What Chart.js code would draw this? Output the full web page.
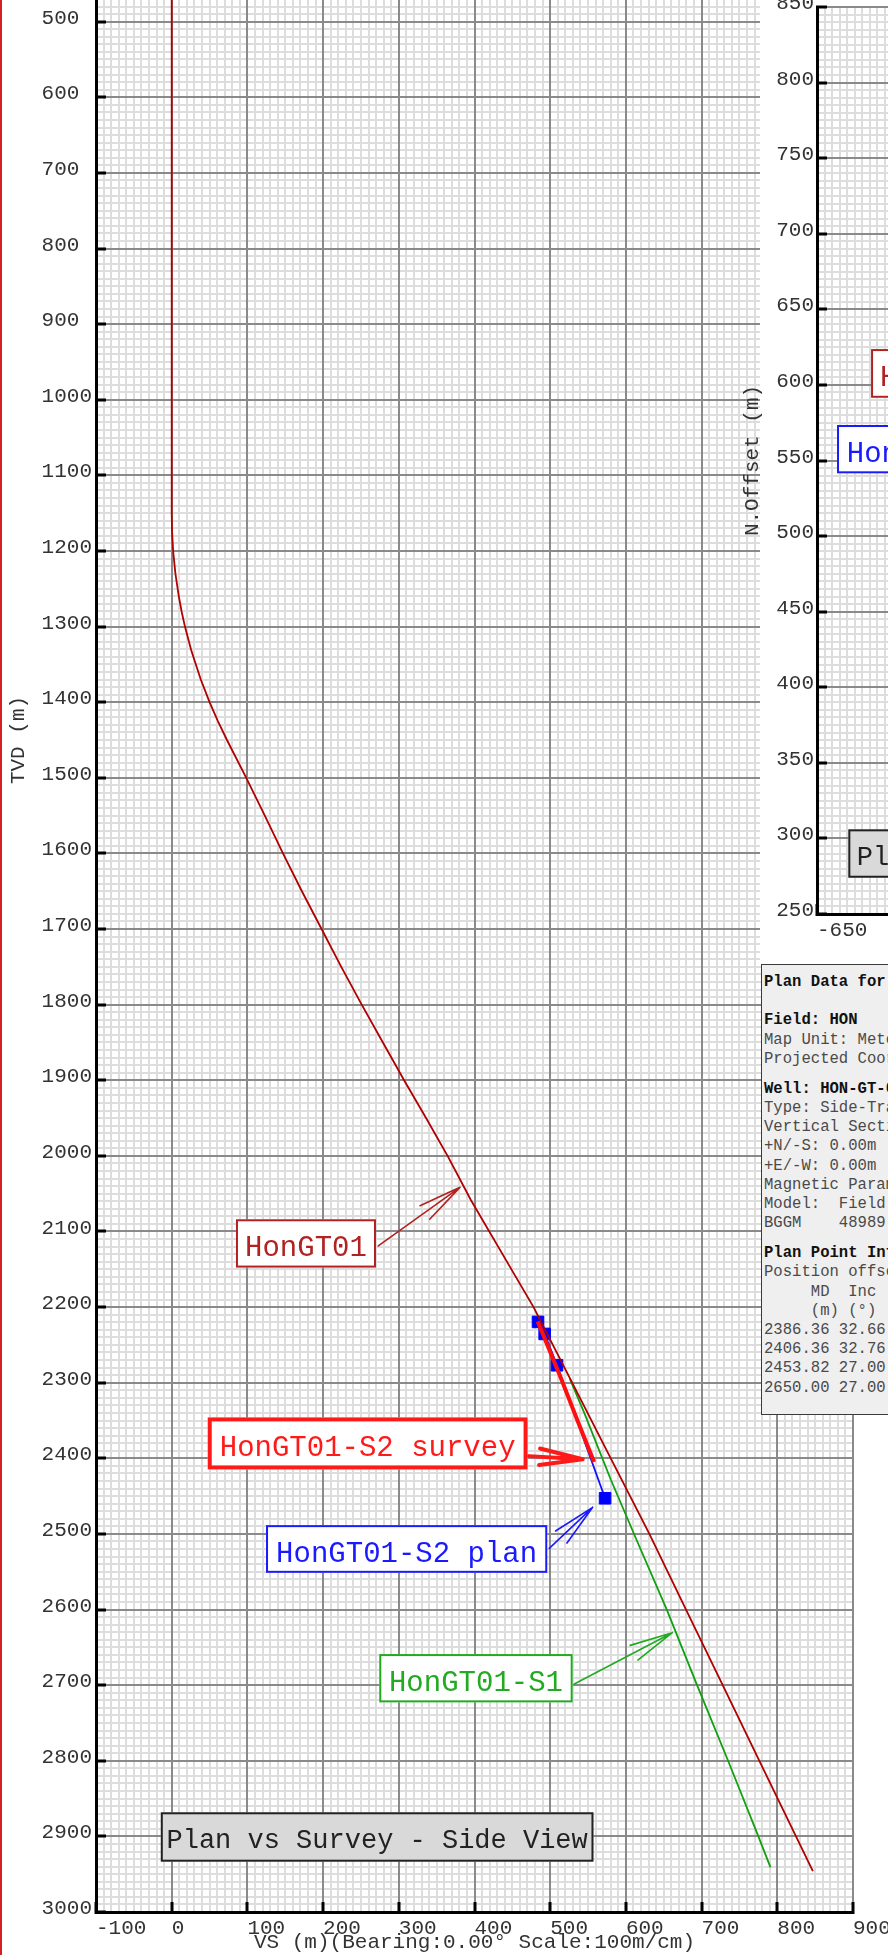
<!DOCTYPE html>
<html lang="en">
<head>
<meta charset="utf-8">
<title>Plan vs Survey - Side View</title>
<script src="https://cdn.jsdelivr.net/npm/chart.js@4.4.1/dist/chart.umd.min.js"></script>
<style>
  html, body { margin: 0; padding: 0; background: #fff; overflow: hidden; }
  #page { position: relative; width: 888px; height: 1955px; overflow: hidden; background: #fff; }
  #sideCanvas { position: absolute; left: 0; top: -460px; z-index: 1; }
  #planPanel { position: absolute; left: 760px; top: 0; width: 128px; height: 964px; background: #fff; z-index: 2; }
  #planCanvas { position: absolute; left: 740px; top: 0; z-index: 3; }
  #info { position: absolute; left: 761px; top: 964px; width: 420px; height: 451px; box-sizing: border-box;
          background: #efefef; border: 1.5px solid #3a3a3a; padding: 8px 0 0 2px; z-index: 4;
          font-family: "Liberation Mono", "Courier New", monospace; font-size: 15.6px; line-height: 19.2px;
          color: #4a4a4a; white-space: pre; }
  #info .b { font-weight: bold; color: #111; }
  #edge { position: absolute; left: 0; top: 0; width: 2px; height: 1955px; background: #d42020; z-index: 5; }
</style>
</head>
<body>
<div id="page">
  <canvas id="sideCanvas" width="888" height="2415" style="width:888px;height:2415px"></canvas>
  <div id="planPanel"></div>
  <canvas id="planCanvas" width="860" height="960" style="width:860px;height:960px"></canvas>
  <div id="info"></div>
  <div id="edge"></div>
</div>
<script>
// ---------------- data ----------------
// Side view: VS (m) vs TVD (m)
const hongt01VS  = [0, 0, 0.5, 1.9, 4.9, 9.4, 13.1, 17.5, 25.7, 38.4, 50, 61, 73, 98.5, 123, 147, 172, 198.5, 224, 251, 279, 307, 336, 365, 395, 437, 478, 529, 580, 631, 679.4, 727.9, 776.3, 824.7, 847];
const hongt01TVD = [0, 1150, 1175, 1200, 1230, 1260, 1280, 1300, 1331, 1370, 1400, 1425, 1450, 1500, 1550, 1600, 1650, 1701, 1750, 1800, 1850, 1900, 1950, 2001, 2058, 2130, 2200, 2300, 2400, 2500, 2600, 2700, 2800, 2900, 2946];

const s1VS  = [526, 545, 580, 615, 654, 694, 735, 775, 791];
const s1TVD = [2295, 2340, 2428, 2510, 2600, 2700, 2800, 2900, 2941];

const s2SurveyVS  = [483.5, 488, 495, 515, 536, 558];
const s2SurveyTVD = [2219, 2230, 2247, 2296, 2350, 2405];

const s2PlanVS  = [483.9, 492.7, 509, 572.5];
const s2PlanTVD = [2219.6, 2235.5, 2276.9, 2452.8];

// Plan point table
const planMD  = ['2386.36', '2406.36', '2453.82', '2650.00'];
const planInc = ['32.66', '32.76', '27.00', '27.00'];

// Axis ranges
const VS_RANGE  = [-100, 900];
const TVD_RANGE = [-100, 3000];
const EO_RANGE  = [-650, -150];
const NO_RANGE  = [250, 850];

// Callout texts
const sideTitle = 'Plan vs Survey - Side View';
const planTitle = 'Plan vs Survey - Plan View';
const nameHon = 'HonGT01';
const nameS1 = 'HonGT01-S1';
const nameSurvey = 'HonGT01-S2 survey';
const namePlan = 'HonGT01-S2 plan';

// ---------------- helpers ----------------
const MONO = '"Liberation Mono", "Courier New", monospace';
const MINOR = '#dddddd';
const MAJOR = '#8a8a8a';
const pts = (xs, ys) => xs.map((v, i) => ({ x: v, y: ys[i] }));

function fitBox(size) {
  return s => {
    if (s.isHorizontal()) s.height = size; else s.width = size;
    s.paddingLeft = 0; s.paddingRight = 0; s.paddingTop = 0; s.paddingBottom = 0;
  };
}

function minorAxis(axis, pos, range, step, reverse) {
  return {
    type: 'linear', axis: axis, position: pos, min: range[0], max: range[1], reverse: !!reverse,
    ticks: { display: false, stepSize: step },
    grid: { color: MINOR, lineWidth: 2, drawTicks: false, z: -2 },
    border: { display: false },
    afterFit: fitBox(0)
  };
}

function majorAxis(pos, range, step, size, extra) {
  const horiz = pos === 'bottom';
  const o = {
    type: 'linear', position: pos, min: range[0], max: range[1],
    ticks: {
      stepSize: step, autoSkip: false, maxRotation: 0, padding: 14,
      font: { family: MONO, size: 21 }, color: '#333',
      callback: v => horiz ? String(v) : String(v).padEnd(extra.pad || 0, ' ')
    },
    grid: { color: MAJOR, lineWidth: 2, tickLength: -10, tickWidth: 3, tickColor: '#000' },
    border: { color: '#000', width: 3 },
    afterFit: fitBox(size)
  };
  if (horiz) { o.ticks.align = 'start'; }
  else { o.ticks.crossAlign = 'near'; o.ticks.labelOffset = -3.5; o.ticks.padding = extra.padding || 14; }
  if (extra.reverse) o.reverse = true;
  if (extra.title) o.title = { display: true, text: extra.title, color: '#333', font: { family: MONO, size: 21 }, padding: extra.titlePad };
  return o;
}

// Callout boxes with open arrowheads, positioned in data coordinates
const calloutPlugin = {
  id: 'callouts',
  afterDatasetsDraw(chart, args, opts) {
    const ctx = chart.ctx, xs = chart.scales.x, ys = chart.scales.y;
    for (const c of (opts.items || [])) {
      ctx.save();
      ctx.font = c.size + 'px ' + MONO;
      const tw = ctx.measureText(c.text).width;
      const left = xs.getPixelForValue(c.boxX), mid = ys.getPixelForValue(c.boxY);
      const w = tw + 2 * c.padX, h = c.h, top = mid - h / 2;
      ctx.fillStyle = c.fill;
      ctx.fillRect(left, top, w, h);
      ctx.lineWidth = c.border;
      ctx.strokeStyle = c.stroke;
      ctx.strokeRect(left + c.border / 2, top + c.border / 2, w - c.border, h - c.border);
      ctx.fillStyle = c.color;
      ctx.textAlign = 'left';
      ctx.textBaseline = 'alphabetic';
      ctx.fillText(c.text, left + c.padX, mid + c.baseDY);
      if (c.tipX !== undefined) {
        const tx = xs.getPixelForValue(c.tipX), ty = ys.getPixelForValue(c.tipY);
        const sx = left + w + c.gap, sy = mid + c.startDY;
        const ang = Math.atan2(ty - sy, tx - sx);
        ctx.strokeStyle = c.stroke;
        ctx.lineWidth = c.arrowWidth;
        ctx.lineCap = 'round';
        ctx.beginPath();
        ctx.moveTo(sx, sy); ctx.lineTo(tx, ty);
        [-1, 1].forEach(s => {
          const a = ang + Math.PI + s * 0.19;
          ctx.moveTo(tx, ty);
          ctx.lineTo(tx + 44 * Math.cos(a), ty + 44 * Math.sin(a));
        });
        ctx.stroke();
      }
      ctx.restore();
    }
  }
};

// ---------------- side view chart ----------------
new Chart(document.getElementById('sideCanvas'), {
  type: 'scatter',
  data: {
    datasets: [
      { label: nameSurvey, data: pts(s2SurveyVS, s2SurveyTVD), showLine: true, borderColor: '#ff1010', borderWidth: 4, pointRadius: 0, tension: 0, order: 1 },
      { label: nameHon, data: pts(hongt01VS, hongt01TVD), showLine: true, borderColor: '#b00000', borderWidth: 1.8, pointRadius: 0, tension: 0, order: 2 },
      { label: nameS1, data: pts(s1VS, s1TVD), showLine: true, borderColor: '#10a010', borderWidth: 1.8, pointRadius: 0, tension: 0, order: 3 },
      { label: namePlan, data: pts(s2PlanVS, s2PlanTVD), showLine: true, borderColor: '#1010ff', borderWidth: 1.8,
        pointStyle: 'rect', pointRadius: 8.2, pointBackgroundColor: '#0000ff', pointBorderColor: '#0000ff', pointBorderWidth: 1, tension: 0, order: 4 }
    ]
  },
  options: {
    responsive: false, animation: false, events: [],
    layout: { padding: { left: 0, right: 35, top: 28, bottom: 0 } },
    scales: {
      xMinor: minorAxis('x', 'bottom', VS_RANGE, 10),
      yMinor: minorAxis('y', 'left', TVD_RANGE, 10, true),
      x: majorAxis('bottom', VS_RANGE, 100, 43, { title: 'VS (m)(Bearing:0.00° Scale:100m/cm)', titlePad: { top: 0, bottom: 0 } }),
      y: majorAxis('left', TVD_RANGE, 100, 96, { reverse: true, pad: 4, padding: 14, title: 'TVD (m)', titlePad: { top: 6, bottom: 0 } })
    },
    plugins: {
      legend: { display: false }, tooltip: { enabled: false },
      callouts: {
        items: [
          { text: nameHon, size: 29, boxX: 84.9, boxY: 2115.8, padX: 9.1, h: 48.3, baseDY: 12.8, fill: '#fff', stroke: '#b22222', color: '#b22222', border: 2,
            tipX: 380.8, tipY: 2041.6, gap: 2.3, startDY: 2.5, arrowWidth: 1.6 },
          { text: nameSurvey, size: 29, boxX: 47.6, boxY: 2380.3, padX: 12, h: 52, baseDY: 12.7, fill: '#fff', stroke: '#ff1a1a', color: '#ff1a1a', border: 4,
            tipX: 542.9, tipY: 2401.3, gap: 1.5, startDY: 12.7, arrowWidth: 4 },
          { text: namePlan, size: 29, boxX: 124.6, boxY: 2519.9, padX: 10.1, h: 47.7, baseDY: 12.8, fill: '#fff', stroke: '#1a1aff', color: '#1a1aff', border: 2,
            tipX: 556.1, tipY: 2464.8, gap: 2, startDY: -0.6, arrowWidth: 1.6 },
          { text: nameS1, size: 29, boxX: 274.2, boxY: 2690.8, padX: 9.7, h: 48.3, baseDY: 12.8, fill: '#fff', stroke: '#22aa22', color: '#22aa22', border: 2,
            tipX: 661.3, tipY: 2630.6, gap: 1.6, startDY: 5.8, arrowWidth: 1.6 },
          { text: sideTitle, size: 27, boxX: -14.4, boxY: 2900.8, padX: 5.7, h: 49.4, baseDY: 11.3, fill: '#d9d9d9', stroke: '#222', color: '#222', border: 2 }
        ]
      }
    }
  },
  plugins: [calloutPlugin]
});

// ---------------- plan view chart (mostly outside the page) ----------------
new Chart(document.getElementById('planCanvas'), {
  type: 'scatter',
  data: { datasets: [] },
  options: {
    responsive: false, animation: false, events: [],
    layout: { padding: { left: 0, right: 30, top: 7, bottom: 0 } },
    scales: {
      xMinor: minorAxis('x', 'bottom', EO_RANGE, 5),
      yMinor: minorAxis('y', 'left', NO_RANGE, 5),
      x: majorAxis('bottom', EO_RANGE, 50, 46, {}),
      y: majorAxis('left', NO_RANGE, 50, 77, { pad: 0, padding: 13, title: 'N.Offset (m)', titlePad: { top: 0, bottom: 0 } })
    },
    plugins: {
      legend: { display: false }, tooltip: { enabled: false },
      callouts: {
        items: [
          { text: nameHon, size: 29, boxX: -614.1, boxY: 607.6, padX: 9, h: 48.7, baseDY: 12.8, fill: '#fff', stroke: '#b22222', color: '#b22222', border: 2 },
          { text: namePlan, size: 29, boxX: -636.7, boxY: 557.5, padX: 9.7, h: 48.3, baseDY: 12.8, fill: '#fff', stroke: '#1a1aff', color: '#1a1aff', border: 2 },
          { text: planTitle, size: 27, boxX: -629.2, boxY: 290.0, padX: 8.4, h: 48.4, baseDY: 11.3, fill: '#d9d9d9', stroke: '#222', color: '#222', border: 2 }
        ]
      }
    }
  },
  plugins: [calloutPlugin]
});

// ---------------- plan data table ----------------
const infoLines = [
  { t: 'Plan Data for HonGT01-S2 plan', b: true },
  { gap: 19.2 },
  { t: 'Field: HON', b: true },
  { t: 'Map Unit: Meters' },
  { t: 'Projected Coordinate System' },
  { gap: 10.8 },
  { t: 'Well: HON-GT-01', b: true },
  { t: 'Type: Side-Track' },
  { t: 'Vertical Section: 0.00°' },
  { t: '+N/-S: 0.00m' },
  { t: '+E/-W: 0.00m' },
  { t: 'Magnetic Parameters' },
  { t: 'Model:  Field Strength' },
  { t: 'BGGM    48989' },
  { gap: 10.8 },
  { t: 'Plan Point Information', b: true },
  { t: 'Position offsets relative to slot' },
  { t: '     MD  Inc' },
  { t: '     (m) (°)' }
].concat(planMD.map((md, i) => ({ t: md + ' ' + planInc[i] })));

const info = document.getElementById('info');
infoLines.forEach(l => {
  const d = document.createElement('div');
  if (l.gap) { d.style.height = l.gap + 'px'; }
  else { d.textContent = l.t; if (l.b) d.className = 'b'; }
  info.appendChild(d);
});
</script>
</body>
</html>
